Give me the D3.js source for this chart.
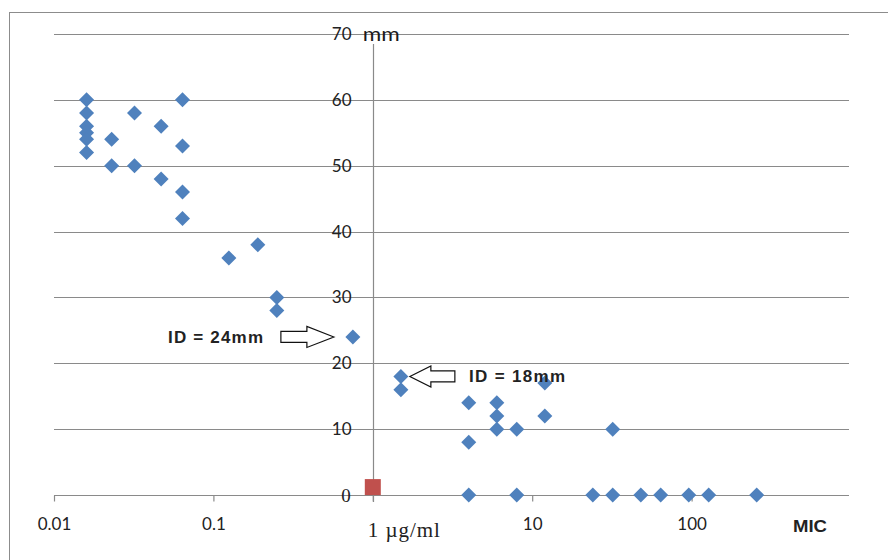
<!DOCTYPE html>
<html>
<head>
<meta charset="utf-8">
<script src="https://cdn.jsdelivr.net/npm/d3@7/dist/d3.min.js"></script>
<style>
    body { margin: 0; background: #fff; }
    #chart { width: 888px; height: 560px; }
</style>
</head>
<body>
<div id="chart"></div>
<script>
"use strict";

// MIC (ug/ml) vs inhibition zone diameter (mm)
var micValues = [
    0.016, 0.016, 0.016, 0.016, 0.016, 0.016,
    0.023, 0.023,
    0.032, 0.032,
    0.047, 0.047,
    0.064, 0.064, 0.064, 0.064,
    0.125, 0.19, 0.25, 0.25, 0.75,
    1.5, 1.5,
    4, 4, 4,
    6, 6, 6,
    8, 8,
    12, 12,
    24, 32, 32, 48, 64, 96, 128, 256
];
var zoneValues = [
    60, 58, 56, 55, 54, 52,
    54, 50,
    58, 50,
    56, 48,
    60, 53, 46, 42,
    36, 38, 30, 28, 24,
    18, 16,
    14, 8, 0,
    14, 12, 10,
    10, 0,
    17, 12,
    0, 10, 0, 0, 0, 0, 0, 0
];

// control point (red square)
var controlMic = [1];
var controlZone = [1.2];

var xTicks = [0.01, 0.1, 1, 10, 100];
var xTickLabels = ["0.01", "0.1", "", "10", "100"];
var yTicks = [0, 10, 20, 30, 40, 50, 60, 70];

var data = micValues.map((m, i) => ({ mic: m, zone: zoneValues[i] }));
var control = controlMic.map((m, i) => ({ mic: m, zone: controlZone[i] }));

var width = 888, height = 560;

var svg = d3.select("#chart")
    .append("svg")
    .attr("width", width)
    .attr("height", height);

// outer chart border
svg.append("rect")
    .attr("x", 9.5)
    .attr("y", 12.5)
    .attr("width", 890)
    .attr("height", 560)
    .attr("fill", "none")
    .attr("stroke", "#8c8c8c");

// scales
var x = d3.scaleLog()
    .domain([0.01, 1000])
    .range([54, 851]);

var y = d3.scaleLinear()
    .domain([0, 70])
    .range([495, 34]);

var gridColor = "#8a8a8a";

// horizontal gridlines
svg.append("g")
    .selectAll("line")
    .data(yTicks)
    .join("line")
    .attr("x1", 54)
    .attr("x2", 849)
    .attr("y1", d => Math.round(y(d)) + 0.5)
    .attr("y2", d => Math.round(y(d)) + 0.5)
    .attr("stroke", gridColor)
    .attr("stroke-width", 1.2);

// x axis (crosses at zone = 0)
var xAxis = svg.append("g")
    .attr("transform", `translate(0,${Math.round(y(0)) + 0.5})`)
    .call(d3.axisBottom(x)
        .tickValues(xTicks)
        .tickFormat((d, i) => xTickLabels[i])
        .tickSize(6)
        .tickSizeOuter(0));
xAxis.select(".domain").remove();
xAxis.selectAll(".tick line")
    .attr("stroke", gridColor)
    .attr("stroke-width", 1.2);
xAxis.selectAll(".tick text")
    .attr("dy", null)
    .attr("y", 34)
    .attr("font-family", "Lato, 'Open Sans', sans-serif")
    .attr("font-size", 17)
    .attr("fill", "#222");

// y axis (crosses at MIC = 1)
var yAxis = svg.append("g")
    .attr("transform", `translate(${Math.round(x(1)) + 0.5},0)`)
    .call(d3.axisLeft(y)
        .tickValues(yTicks)
        .tickFormat(d => d === 0 ? "" : d)
        .tickSize(0)
        .tickPadding(22));
yAxis.select(".domain").remove();
yAxis.selectAll(".tick text")
    .attr("font-family", "Lato, 'Open Sans', sans-serif")
    .attr("font-size", 17)
    .attr("fill", "#222");

// vertical axis line, starts just below the "mm" title
svg.append("line")
    .attr("x1", Math.round(x(1)) + 0.5)
    .attr("x2", Math.round(x(1)) + 0.5)
    .attr("y1", y(70) + 10)
    .attr("y2", y(0) + 7)
    .attr("stroke", gridColor)
    .attr("stroke-width", 1.2);

// "0" label in serif
svg.append("text")
    .attr("x", x(1) - 22)
    .attr("y", y(0))
    .attr("dy", "0.35em")
    .attr("text-anchor", "end")
    .attr("font-family", "'Liberation Serif', serif")
    .attr("font-size", 19)
    .attr("fill", "#222")
    .text("0");

// axis titles
svg.append("text")
    .attr("x", x(1) - 10)
    .attr("y", y(70))
    .attr("dy", "0.35em")
    .attr("font-family", "Lato, 'Open Sans', sans-serif")
    .attr("font-size", 19)
    .attr("textLength", 37)
    .attr("lengthAdjust", "spacingAndGlyphs")
    .attr("fill", "#1a1a1a")
    .text("mm");

svg.append("text")
    .attr("x", x(1) - 5)
    .attr("y", y(0) + 42)
    .attr("font-family", "'Liberation Serif', serif")
    .attr("font-size", 21)
    .attr("textLength", 72)
    .attr("lengthAdjust", "spacing")
    .attr("fill", "#222")
    .text("1 µg/ml");

svg.append("text")
    .attr("x", 793)
    .attr("y", 532)
    .attr("font-family", "'Liberation Sans', Arial, sans-serif")
    .attr("font-weight", "bold")
    .attr("font-size", 16)
    .attr("textLength", 34)
    .attr("lengthAdjust", "spacingAndGlyphs")
    .attr("fill", "#222")
    .text("MIC");

// diamond markers
var r = 7.5;
var diamond = `M0,${-r}L${r},0L0,${r}L${-r},0Z`;

svg.append("g")
    .selectAll("path")
    .data(data)
    .join("path")
    .attr("d", diamond)
    .attr("transform", d => `translate(${x(d.mic)},${y(d.zone)})`)
    .attr("fill", "#4f81bd");

// control square
svg.append("g")
    .selectAll("rect")
    .data(control)
    .join("rect")
    .attr("x", d => x(d.mic) - 8)
    .attr("y", d => y(d.zone) - 8)
    .attr("width", 16)
    .attr("height", 16)
    .attr("fill", "#c0504d");

// block arrow outline, tip at (tx,ty), dir = 1 points right, -1 points left
function blockArrow(tx, ty, dir, bodyLen, headLen) {
    var hh = 10.5, bh = 5.5;
    var p = [
        [0, 0],
        [-headLen, -hh],
        [-headLen, -bh],
        [-headLen - bodyLen, -bh],
        [-headLen - bodyLen, bh],
        [-headLen, bh],
        [-headLen, hh]
    ];
    svg.append("path")
        .attr("d", "M" + p.map(q => [tx + dir * q[0], ty + q[1]].join(",")).join("L") + "Z")
        .attr("fill", "#fff")
        .attr("stroke", "#111")
        .attr("stroke-width", 1.2);
}

// annotations
blockArrow(x(0.75) - 19, y(24), 1, 26, 27);
blockArrow(x(1.5) + 9, y(18), -1, 24, 21);

svg.append("text")
    .attr("x", 168)
    .attr("y", y(24) + 6)
    .attr("font-family", "'Liberation Sans', Arial, sans-serif")
    .attr("font-weight", "bold")
    .attr("font-size", 17)
    .attr("textLength", 95)
    .attr("lengthAdjust", "spacing")
    .attr("fill", "#222")
    .text("ID = 24mm");

svg.append("text")
    .attr("x", 469)
    .attr("y", y(18) + 6)
    .attr("font-family", "'Liberation Sans', Arial, sans-serif")
    .attr("font-weight", "bold")
    .attr("font-size", 17)
    .attr("textLength", 96)
    .attr("lengthAdjust", "spacing")
    .attr("fill", "#222")
    .text("ID = 18mm");
</script>
</body>
</html>
